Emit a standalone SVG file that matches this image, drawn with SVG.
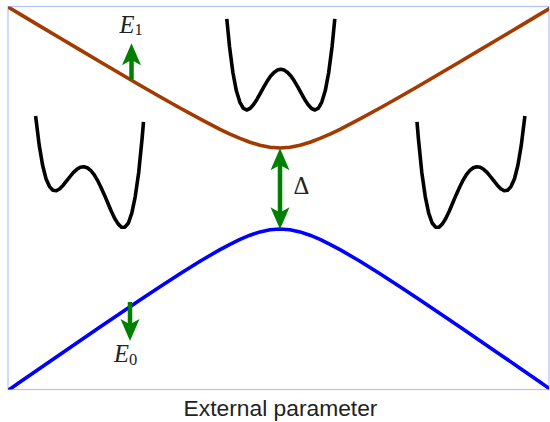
<svg xmlns="http://www.w3.org/2000/svg" xmlns:xlink="http://www.w3.org/1999/xlink" width="550" height="422" viewBox="0 0 550 422">
  <style>
    .frame { fill: #ffffff; stroke: #b0c2fb; stroke-width: 1.2; }
    .level { fill: none; stroke-width: 3.6; stroke-linejoin: round; }
    .upper { stroke: #a33a00; }
    .lower { stroke: #0000ff; }
    .well { fill: none; stroke: #000000; stroke-width: 3.6; stroke-linejoin: round; stroke-linecap: butt; }
    .shaft { stroke: #008000; stroke-width: 4.5; fill: none; }
    .head { fill: #008000; stroke: none; }
    .math { font-family: "Liberation Serif", "DejaVu Serif", serif; fill: #222222; }
    .axis { font-family: "Liberation Sans", Arial, sans-serif; font-size: 22.8px; fill: #222222; }
  </style>
  <defs>
    <clipPath id="plotclip">
      <rect x="8" y="6.5" width="541" height="383"/>
    </clipPath>
    <path id="head" class="head" d="M0,0 L9.5,22 L2.3,18 L-2.3,18 L-9.5,22 Z"/>
  </defs>

  <g id="frame">
    <rect class="frame" x="8" y="6.5" width="541" height="383"/>
  </g>

  <g id="levels" clip-path="url(#plotclip)">
    <polyline id="level-E1" class="level upper" points="5,5.2 20,14.15 40,26.1 60,38 80,49.9 100,61.75 120,73.5 140,85.2 160,96.7 180,108 200,118.9 220,129.3 230,134.05 240,138.4 250,142.26 260,145.3 270,147.3 280,148 290,147.3 300,145.3 310,142.26 320,138.4 330,134.05 340,129.3 360,118.9 380,108 400,96.7 420,85.2 440,73.5 460,61.75 480,49.9 500,38 520,26.1 540,14.15 555,5.2"/>
    <polyline id="level-E0" class="level lower" points="5,392.5 20,382.1 40,368.2 60,354.4 80,340.7 100,327 120,313.4 140,300 160,286.8 180,273.8 200,261.3 220,249.6 230,244.3 240,239.4 250,235.2 260,231.9 270,229.74 280,229 290,229.74 300,231.9 310,235.2 320,239.4 330,244.3 340,249.6 360,261.3 380,273.8 400,286.8 420,300 440,313.4 460,326.9 480,340.7 500,354.4 520,368.2 540,382.1 555,392.5"/>
  </g>

  <g id="well-left">
    <polyline class="well" points="35.6,116 39.2,145.1 42.6,165.2 46,178.7 49.5,186.6 52.9,190.3 56.3,190.7 59.8,188.7 63.2,185.2 66.6,180.9 70.1,176.5 73.5,172.4 76.9,169.3 80.3,167.3 83.8,166.7 87.2,167.75 90.6,170.4 94.1,174.6 97.5,180.3 100.9,187.2 104.4,194.9 107.8,203 111.2,211 114.6,218.2 118.1,223.9 121.5,227.2 124.9,227.2 128.4,223 131.8,213.2 135.2,196.8 138.7,172.4 142.1,138.5 143.5,121.9"/>
  </g>

  <g id="well-middle">
    <polyline class="well" points="226.8,18.9 229.5,46.4 232.9,72.5 236.3,90.6 239.8,102.1 243.2,108.2 246.6,110 250,108.5 253.4,104.7 256.9,99.4 260.3,93.3 263.7,87.1 267.1,81.3 270.5,76.3 274,72.5 277.4,70.1 280.8,69.3 284.2,70.1 287.6,72.5 291.1,76.3 294.5,81.3 297.9,87.1 301.3,93.3 304.7,99.4 308.2,104.7 311.6,108.5 315,110 318.4,108.2 321.8,102.1 325.3,90.6 328.7,72.5 332.1,46.4 334.8,18.9"/>
  </g>

  <g id="well-right" transform="translate(560.5,0) scale(-1,1)">
    <polyline class="well" points="35.6,116 39.2,145.1 42.6,165.2 46,178.7 49.5,186.6 52.9,190.3 56.3,190.7 59.8,188.7 63.2,185.2 66.6,180.9 70.1,176.5 73.5,172.4 76.9,169.3 80.3,167.3 83.8,166.7 87.2,167.75 90.6,170.4 94.1,174.6 97.5,180.3 100.9,187.2 104.4,194.9 107.8,203 111.2,211 114.6,218.2 118.1,223.9 121.5,227.2 124.9,227.2 128.4,223 131.8,213.2 135.2,196.8 138.7,172.4 142.1,138.5 143.5,121.9"/>
  </g>

  <g id="arrows">
    <g id="arrow-E1">
      <line class="shaft" x1="131.5" y1="79.5" x2="131.5" y2="60"/>
      <use xlink:href="#head" href="#head" transform="translate(131.5,43.3)"/>
    </g>
    <g id="arrow-E0">
      <line class="shaft" x1="130" y1="302" x2="130" y2="324"/>
      <use xlink:href="#head" href="#head" transform="translate(130,341) rotate(180)"/>
    </g>
    <g id="arrow-gap">
      <line class="shaft" x1="280" y1="165" x2="280" y2="212"/>
      <use xlink:href="#head" href="#head" transform="translate(280,148.3)"/>
      <use xlink:href="#head" href="#head" transform="translate(280,229.3) rotate(180)"/>
    </g>
  </g>

  <g id="labels">
    <text class="math" x="119.5" y="32.5" font-size="24.5"><tspan font-style="italic">E</tspan><tspan font-size="16.5" dy="2.5">1</tspan></text>
    <text class="math" x="114" y="362" font-size="24.5"><tspan font-style="italic">E</tspan><tspan font-size="16.5" dy="2.5">0</tspan></text>
    <text class="math" x="293.5" y="193.5" font-size="24.5">Δ</text>
    <text class="axis" x="280.5" y="416" text-anchor="middle">External parameter</text>
  </g>
</svg>
